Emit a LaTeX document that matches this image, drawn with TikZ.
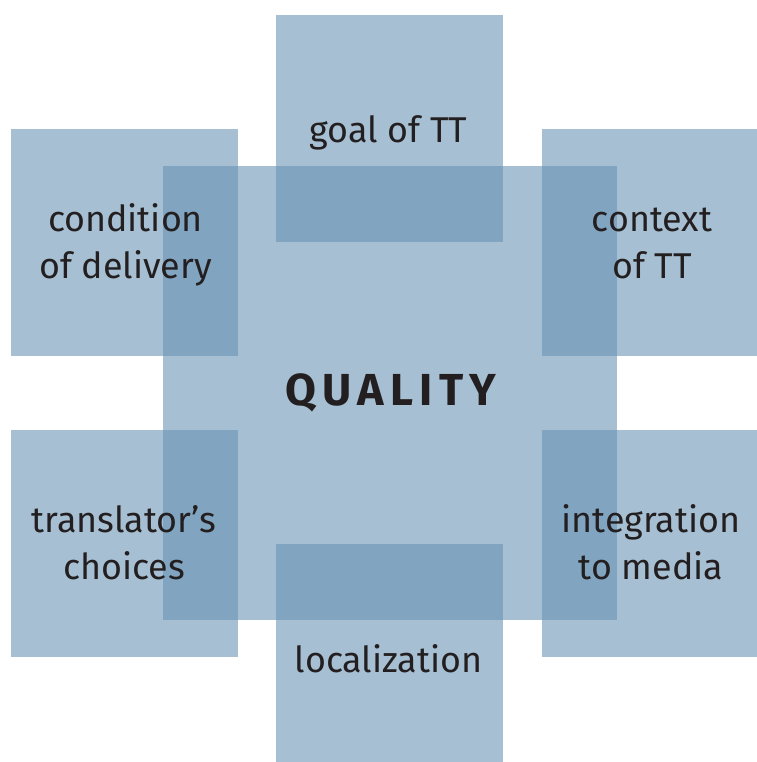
\documentclass[tikz,border=0pt]{standalone}
\usepackage{fontspec}
\setmainfont{Fira Sans}
\definecolor{sqcol}{RGB}{104,147,180}
\definecolor{ink}{HTML}{231F20}
\begin{document}
\begin{tikzpicture}[x=1bp,y=-1bp,
  box/.style={fill=sqcol, fill opacity=0.59, draw=none, minimum width=227bp, minimum height=227bp, inner sep=0pt, outer sep=0pt},
  bigbox/.style={box, minimum width=454bp, minimum height=454bp},
  lbl/.style={text=ink, font=\fontsize{36}{47}\selectfont, align=center, anchor=base, inner sep=0pt},
  qual/.style={text=ink, font=\fontsize{45}{50}\selectfont\bfseries\addfontfeature{LetterSpace=14}, anchor=base, inner sep=0pt}]
\useasboundingbox (0,0) rectangle (757,762);
\clip (0,0) rectangle (757,762);
\node[bigbox] (quality) at (390,393) {};
\node[box] (goal) at (389.5,128.5) {};
\node[box] (cond) at (124.5,242.5) {};
\node[box] (ctx) at (655.5,242.5) {};
\node[box] (trans) at (124.5,543.5) {};
\node[box] (integ) at (655.5,543.5) {};
\node[box] (loc) at (389.5,657.5) {};
\node[qual] (tq) at (391,405) {QUALITY};
\node[lbl] (tgoal) at (388.5,142) {goal of TT};
\node[lbl] (tcond) at (125.5,278) {condition\\of delivery};
\node[lbl] (tctx) at (652,278) {context\\of TT};
\node[lbl] (ttrans) at (124,579) {translator’s\\choices};
\node[lbl] (tinteg) at (651,579) {integration\\to media};
\node[lbl] (tloc) at (388.5,672) {localization};
\end{tikzpicture}
\end{document}
